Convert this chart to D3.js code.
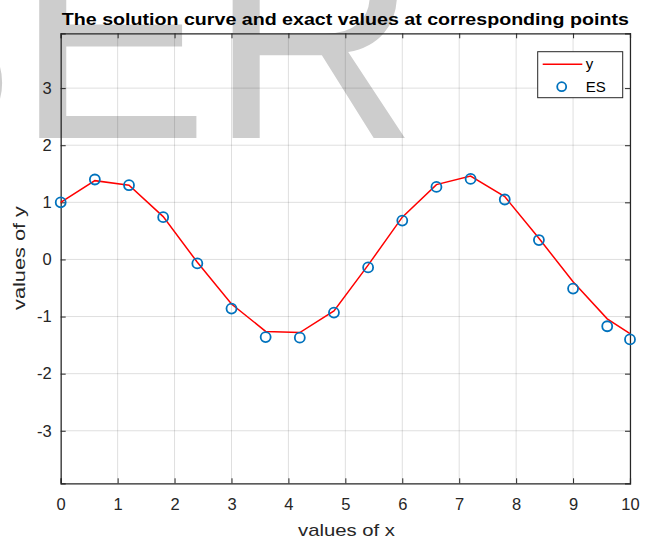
<!DOCTYPE html>
<meta charset="utf-8">
<style>
body { margin: 0; background: white; }
text { font-family: "Liberation Sans", Arial, sans-serif; }
</style>
<body>
<script src="https://d3js.org/d3.v7.min.js"></script>
<script>

// chart data
const xValues = [0, 0.6, 1.2, 1.8, 2.4, 3.0, 3.6, 4.2, 4.8, 5.4, 6.0, 6.6, 7.2, 7.8, 8.4, 9.0, 9.6, 10]
const yValues = [1.00, 1.38, 1.30, 0.75, -0.05, -0.78, -1.26, -1.28, -0.90, -0.10, 0.74, 1.31, 1.46, 1.10, 0.37, -0.39, -1.04, -1.30]
const esValues = [1.00, 1.40, 1.30, 0.74, -0.07, -0.86, -1.36, -1.37, -0.93, -0.14, 0.68, 1.27, 1.41, 1.05, 0.34, -0.51, -1.17, -1.40]
const xTicks = [0, 1, 2, 3, 4, 5, 6, 7, 8, 9, 10]
const yTicks = [-3, -2, -1, 0, 1, 2, 3]

const width = 646
const height = 539
const margin = { top: 33.3, right: 16, bottom: 55.7, left: 60.7 }
const axisColor = '#262626'

const svg = d3.select('body')
  .append('svg')
  .attr('width', width)
  .attr('height', height)

// big grey letters behind the plot
svg.append('text')
  .attr('x', -178)
  .attr('y', 138)
  .attr('font-size', 290)
  .attr('fill', '#cdcdcd')
  .text('SER')

const x = d3.scaleLinear()
  .domain([0, 10])
  .range([margin.left, width - margin.right])

const y = d3.scaleLinear()
  .domain([-3.92, 3.96])
  .range([height - margin.bottom, margin.top])

const g = svg.append('g')

// grid
g.selectAll('.vgrid')
  .data(xTicks)
  .enter()
  .append('line')
  .attr('x1', d => x(d))
  .attr('x2', d => x(d))
  .attr('y1', y.range()[1])
  .attr('y2', y.range()[0])
  .attr('stroke', '#262626')
  .attr('stroke-opacity', 0.15)

g.selectAll('.hgrid')
  .data(yTicks)
  .enter()
  .append('line')
  .attr('x1', x.range()[0])
  .attr('x2', x.range()[1])
  .attr('y1', d => y(d))
  .attr('y2', d => y(d))
  .attr('stroke', '#262626')
  .attr('stroke-opacity', 0.15)

// axes with inward ticks on all four sides
const fmt = d => String(d)
const axBottom = g.append('g')
  .attr('transform', `translate(0,${y.range()[0]})`)
  .call(d3.axisBottom(x).tickValues(xTicks).tickSize(-5).tickPadding(15).tickFormat(fmt))
const axTop = g.append('g')
  .attr('transform', `translate(0,${y.range()[1]})`)
  .call(d3.axisTop(x).tickValues(xTicks).tickSize(-5).tickFormat(''))
const axLeft = g.append('g')
  .attr('transform', `translate(${x.range()[0]},0)`)
  .call(d3.axisLeft(y).tickValues(yTicks).tickSize(-5).tickPadding(9).tickFormat(fmt))
const axRight = g.append('g')
  .attr('transform', `translate(${x.range()[1]},0)`)
  .call(d3.axisRight(y).tickValues(yTicks).tickSize(-5).tickFormat(''))

;[axBottom, axTop, axLeft, axRight].forEach(a => {
  a.select('.domain').attr('stroke', axisColor).attr('stroke-width', 1.2)
  a.selectAll('.tick line').attr('stroke', axisColor)
  a.selectAll('.tick text')
    .attr('fill', axisColor)
    .attr('font-size', 16.5)
    .attr('font-family', '"Liberation Sans", Arial, sans-serif')
})

// solution curve
const line = d3.line()
  .x((d, i) => x(xValues[i]))
  .y(d => y(d))

g.append('path')
  .datum(yValues)
  .attr('d', line)
  .attr('fill', 'none')
  .attr('stroke', '#ff0000')
  .attr('stroke-width', 1.5)

// exact values
g.selectAll('circle.es')
  .data(esValues)
  .enter()
  .append('circle')
  .attr('class', 'es')
  .attr('cx', (d, i) => x(xValues[i]))
  .attr('cy', d => y(d))
  .attr('r', 5)
  .attr('fill', 'none')
  .attr('stroke', '#0072bd')
  .attr('stroke-width', 1.8)

// title and axis labels
svg.append('text')
  .attr('x', (x.range()[0] + x.range()[1]) / 2)
  .attr('y', 25)
  .attr('text-anchor', 'middle')
  .attr('font-size', 17)
  .attr('font-weight', 'bold')
  .attr('fill', '#000')
  .attr('textLength', 567)
  .attr('lengthAdjust', 'spacingAndGlyphs')
  .text('The solution curve and exact values at corresponding points')

svg.append('text')
  .attr('x', 346.5)
  .attr('y', 535.5)
  .attr('text-anchor', 'middle')
  .attr('font-size', 17)
  .attr('fill', axisColor)
  .attr('textLength', 97)
  .attr('lengthAdjust', 'spacingAndGlyphs')
  .text('values of x')

svg.append('text')
  .attr('transform', 'translate(25,258) rotate(-90)')
  .attr('text-anchor', 'middle')
  .attr('font-size', 17)
  .attr('fill', axisColor)
  .attr('textLength', 104)
  .attr('lengthAdjust', 'spacingAndGlyphs')
  .text('values of y')

// legend
const legend = svg.append('g')
  .attr('transform', 'translate(537.7,51.7)')

legend.append('rect')
  .attr('width', 85)
  .attr('height', 46)
  .attr('fill', 'white')
  .attr('stroke', axisColor)

legend.append('line')
  .attr('x1', 5)
  .attr('x2', 44.6)
  .attr('y1', 12.6)
  .attr('y2', 12.6)
  .attr('stroke', '#ff0000')
  .attr('stroke-width', 1.5)

legend.append('circle')
  .attr('cx', 24)
  .attr('cy', 35)
  .attr('r', 4.5)
  .attr('fill', 'none')
  .attr('stroke', '#0072bd')
  .attr('stroke-width', 1.8)

legend.append('text')
  .attr('x', 48)
  .attr('y', 17)
  .attr('font-size', 15)
  .attr('fill', '#000')
  .text('y')

legend.append('text')
  .attr('x', 48)
  .attr('y', 40)
  .attr('font-size', 15)
  .attr('fill', '#000')
  .text('ES')

</script>
</body>
